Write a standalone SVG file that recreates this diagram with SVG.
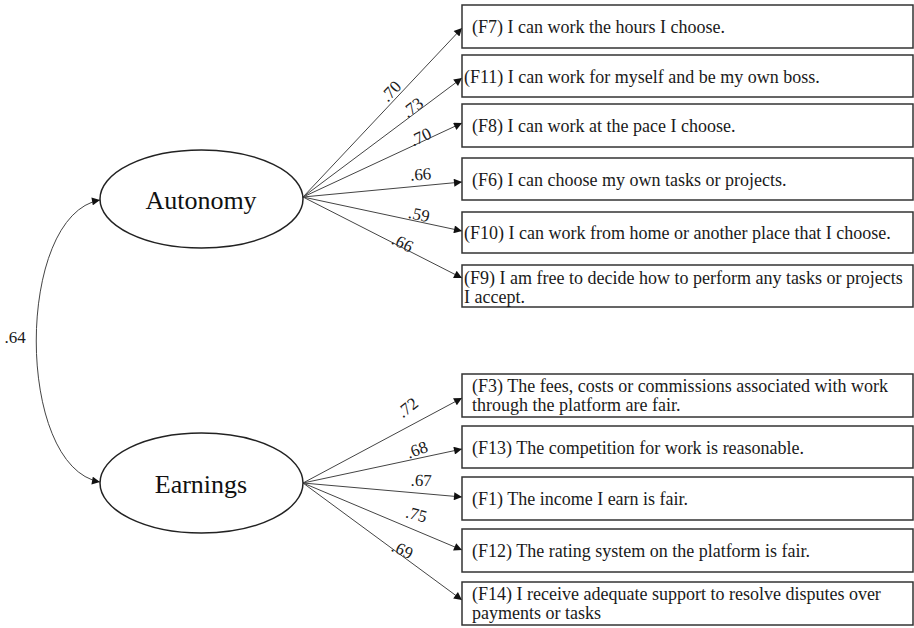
<svg xmlns="http://www.w3.org/2000/svg" width="914" height="628" viewBox="0 0 914 628">
<defs>
<marker id="ah" viewBox="0 0 10 10" refX="10" refY="5" markerWidth="10" markerHeight="8" markerUnits="userSpaceOnUse" orient="auto-start-reverse">
<path d="M0,0 L10,5 L0,10 z" fill="#111"/>
</marker>
<style>
.box{fill:#fff;stroke:#333;stroke-width:1.5}
.ell{fill:#fff;stroke:#222;stroke-width:1.5}
.t{font-family:"Liberation Serif","Times New Roman",serif;font-size:18px;fill:#1a1a1a}
.lat{font-family:"Liberation Serif","Times New Roman",serif;font-size:26px;fill:#111;text-anchor:middle}
.lbl{font-family:"Liberation Serif","Times New Roman",serif;font-size:17px;fill:#1a1a1a;text-anchor:middle}
.c{fill:none;stroke:#444;stroke-width:1;marker-end:url(#ah)}
</style>
</defs>
<rect width="914" height="628" fill="#fff"/>

<g id="connectors">
<path class="c" d="M303,197 L462,28"/>
<path class="c" d="M303,197 L462,78"/>
<path class="c" d="M303,197 L462,123"/>
<path class="c" d="M303,197 L462,182"/>
<path class="c" d="M303,197 L462,231"/>
<path class="c" d="M303,197 L462,278"/>
<path class="c" d="M303,483 L462,398"/>
<path class="c" d="M303,483 L462,449"/>
<path class="c" d="M303,483 L462,497"/>
<path class="c" d="M303,483 L462,550"/>
<path class="c" d="M303,483 L462,600"/>
<path class="c" style="marker-start:url(#ah)" d="M100,200 C15,215 15,467 100,482"/>
<text class="lbl" x="395" y="95" transform="rotate(-47 395 95)">.70</text>
<text class="lbl" x="416" y="112" transform="rotate(-37 416 112)">.73</text>
<text class="lbl" x="423" y="142" transform="rotate(-25 423 142)">.70</text>
<text class="lbl" x="421" y="180" transform="rotate(-4 421 180)">.66</text>
<text class="lbl" x="418" y="220" transform="rotate(12 418 220)">.59</text>
<text class="lbl" x="400" y="248" transform="rotate(27 400 248)">.66</text>
<text class="lbl" x="411" y="412" transform="rotate(-38 411 412)">.72</text>
<text class="lbl" x="419" y="455" transform="rotate(-20 419 455)">.68</text>
<text class="lbl" x="421" y="486" transform="rotate(2 421 486)">.67</text>
<text class="lbl" x="415" y="520" transform="rotate(15 415 520)">.75</text>
<text class="lbl" x="400" y="555" transform="rotate(25 400 555)">.69</text>
<text class="lbl" x="15" y="343">.64</text>
</g>

<g id="autonomy">
<ellipse class="ell" cx="201.5" cy="199" rx="101.5" ry="49"/>
<text class="lat" x="201" y="209">Autonomy</text>
</g>
<g id="earnings">
<ellipse class="ell" cx="201.5" cy="483" rx="101.5" ry="50"/>
<text class="lat" x="201" y="493">Earnings</text>
</g>

<g id="f7"><rect class="box" x="462" y="5" width="451" height="43"/><text class="t" x="472" y="33">(F7) I can work the hours I choose.</text></g>
<g id="f11"><rect class="box" x="462" y="55" width="451" height="42"/><text class="t" x="464" y="83">(F11) I can work for myself and be my own boss.</text></g>
<g id="f8"><rect class="box" x="462" y="104" width="451" height="43"/><text class="t" x="472" y="132">(F8) I can work at the pace I choose.</text></g>
<g id="f6"><rect class="box" x="462" y="158" width="451" height="42"/><text class="t" x="472" y="186">(F6) I can choose my own tasks or projects.</text></g>
<g id="f10"><rect class="box" x="462" y="212" width="451" height="41"/><text class="t" x="464" y="239">(F10) I can work from home or another place that I choose.</text></g>
<g id="f9"><rect class="box" x="462" y="265" width="451" height="42"/><text class="t" x="464" y="284">(F9) I am free to decide how to perform any tasks or projects</text><text class="t" x="464" y="303">I accept.</text></g>

<g id="f3"><rect class="box" x="462" y="374" width="451" height="43"/><text class="t" x="472" y="392">(F3) The fees, costs or commissions associated with work</text><text class="t" x="472" y="411">through the platform are fair.</text></g>
<g id="f13"><rect class="box" x="462" y="426" width="451" height="42"/><text class="t" x="472" y="454">(F13) The competition for work is reasonable.</text></g>
<g id="f1"><rect class="box" x="462" y="477" width="451" height="43"/><text class="t" x="472" y="505">(F1) The income I earn is fair.</text></g>
<g id="f12"><rect class="box" x="462" y="529" width="451" height="43"/><text class="t" x="472" y="557">(F12) The rating system on the platform is fair.</text></g>
<g id="f14"><rect class="box" x="462" y="582" width="451" height="43"/><text class="t" x="472" y="600">(F14) I receive adequate support to resolve disputes over</text><text class="t" x="472" y="619">payments or tasks</text></g>
</svg>
